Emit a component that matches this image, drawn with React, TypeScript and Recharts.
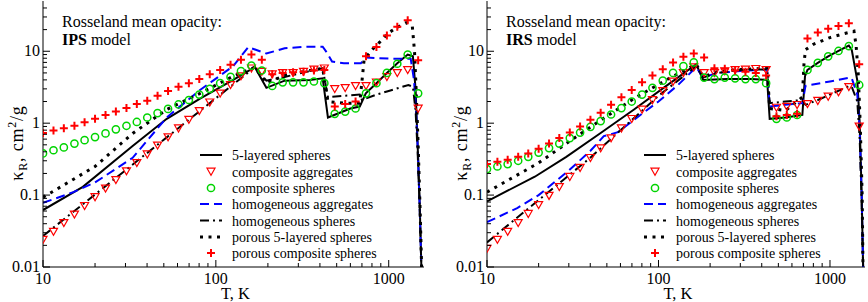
import { ComposedChart, Line, Scatter, XAxis, YAxis } from "recharts";

const FONT = '"Liberation Serif", "Times New Roman", serif';
const RED = "#ff0000";
const GREEN = "#00d400";
const BLUE = "#0000ff";

// temperature grid of the marker series (K)
const T_GRID = [
  10, 11.5, 13.2, 15.2, 17.4, 20.0, 23.0, 26.4, 30.4, 34.9, 40.1, 46.0, 52.9,
  60.8, 69.8, 80.2, 92.2, 105.9, 121.6, 139.7, 160.6, 184.5, 211.9, 243.5,
  279.7, 321.4, 369.3, 424.2, 487.4, 560, 643, 739, 849, 976, 1121, 1288, 1480,
];

// IPS model, marker series (cm^2/g)
const IPS_COMP_AGG = [
  0.024, 0.031, 0.041, 0.054, 0.071, 0.094, 0.124, 0.163, 0.215, 0.28, 0.37,
  0.49, 0.64, 0.85, 1.12, 1.48, 1.95, 2.6, 3.4, 4.5, 5.8, 5.2, 4.8, 5.0, 5.0,
  5.2, 5.6, 5.8, 3.0, 3.1, 3.3, 3.3, 3.7, 4.4, 5.0, 5.5, 1.6,
];
const IPS_COMP_SPH = [
  0.38, 0.42, 0.46, 0.52, 0.58, 0.64, 0.72, 0.82, 0.92, 1.04, 1.2, 1.38, 1.58,
  1.82, 2.1, 2.5, 3.0, 3.6, 4.4, 5.3, 6.3, 5.4, 3.3, 3.7, 3.7, 3.7, 3.8, 3.6,
  1.35, 1.45, 1.6, 2.6, 3.6, 5.0, 6.7, 9.0, 2.6,
];
const IPS_POR_COMP = [
  0.73, 0.79, 0.85, 0.92, 1.03, 1.15, 1.3, 1.45, 1.62, 1.85, 2.05, 2.4, 2.8,
  3.2, 3.6, 4.1, 4.8, 5.5, 6.5, 7.6, 9.0, 7.6, 4.8, 5.0, 5.1, 5.2, 5.4, 5.5,
  1.7, 1.85, 2.0, 8.5, 11.5, 16.5, 22, 27, 7.5,
];

// IRS model, marker series
const IRS_COMP_AGG = [
  0.018, 0.024, 0.031, 0.041, 0.055, 0.073, 0.098, 0.13, 0.18, 0.24, 0.33,
  0.45, 0.62, 0.85, 1.15, 1.55, 2.1, 2.8, 3.8, 5.0, 6.0, 5.0, 5.0, 5.3, 5.5,
  5.6, 5.7, 5.5, 1.65, 1.7, 1.8, 1.85, 2.05, 2.35, 2.7, 3.2, 0.9,
];
const IRS_COMP_SPH = [
  0.23, 0.25, 0.27, 0.3, 0.34, 0.39, 0.45, 0.52, 0.62, 0.74, 0.89, 1.07, 1.32,
  1.62, 2.0, 2.5, 3.1, 3.9, 5.0, 6.2, 7.0, 4.3, 4.1, 4.3, 4.2, 4.1, 4.1, 3.6,
  1.15, 1.2, 1.3, 5.5, 6.9, 8.5, 10.1, 11.8, 3.4,
];
const IRS_POR_COMP = [
  0.27, 0.29, 0.31, 0.34, 0.38, 0.44, 0.52, 0.62, 0.74, 0.9, 1.12, 1.4, 1.8,
  2.3, 2.9, 3.7, 4.6, 5.6, 7.0, 8.4, 9.3, 8.2, 5.8, 5.7, 5.4, 5.2, 5.0, 4.6,
  1.25, 1.3, 1.35, 15, 18.3, 20.5, 22.5, 24.5, 6.6,
];

// IPS model, line series
const IPS_LAYERED_T = [10, 17, 33, 52, 81, 126, 168, 196, 250, 350, 415, 445, 600, 680, 737, 849, 976, 1121, 1288, 1380, 1430, 1470, 1510, 1545, 1570];
const IPS_LAYERED_K = [0.062, 0.13, 0.48, 1.15, 2.2, 4.0, 6.0, 3.1, 3.9, 4.0, 4.2, 1.2, 1.6, 1.7, 2.6, 3.6, 5.0, 6.8, 9.0, 8.5, 3.0, 0.5, 0.08, 0.01, 0.001];
const IPS_HOMAGG_T = [10, 15, 20, 33, 52, 81, 126, 154, 196, 250, 330, 415, 440, 470, 550, 690, 740, 1000, 1340, 1400, 1440, 1475, 1510, 1545, 1570];
const IPS_HOMAGG_K = [0.078, 0.11, 0.15, 0.33, 1.2, 2.9, 6.2, 11.4, 9.3, 11.0, 11.6, 11.6, 9.5, 7.2, 6.8, 6.8, 8.2, 7.9, 7.9, 4.0, 1.5, 0.4, 0.07, 0.01, 0.001];
const IPS_HOMSPH_T = [10, 168, 196, 250, 350, 415, 445, 550, 680, 700, 850, 1000, 1300, 1380, 1430, 1470, 1510, 1545, 1570];
const IPS_HOMSPH_K = [0.027, 6.0, 3.9, 4.4, 5.3, 5.8, 2.3, 2.4, 2.5, 2.1, 2.5, 2.8, 3.4, 3.2, 1.5, 0.4, 0.07, 0.01, 0.001];
const IPS_POR5_T = [10, 20, 33, 52, 81, 126, 168, 196, 250, 350, 415, 445, 550, 680, 720, 800, 890, 990, 1100, 1260, 1370, 1410, 1440, 1480, 1520, 1550, 1570];
const IPS_POR5_K = [0.093, 0.25, 0.72, 1.55, 2.6, 4.5, 6.0, 3.6, 4.6, 5.4, 5.8, 2.0, 1.9, 1.9, 7.5, 10.5, 13.5, 17.8, 21, 25, 22, 10, 3, 0.5, 0.06, 0.01, 0.001];

// IRS model, line series
const IRS_LAYERED_T = [10, 19, 29, 46, 72, 111, 166, 182, 250, 350, 430, 445, 550, 690, 715, 739, 849, 976, 1121, 1288, 1340, 1443, 1490, 1530, 1560, 1575];
const IRS_LAYERED_K = [0.082, 0.18, 0.34, 0.73, 1.55, 3.3, 6.6, 4.0, 4.1, 4.1, 4.0, 1.15, 1.2, 1.3, 4.5, 5.5, 6.9, 8.5, 10.1, 12.0, 10.4, 3.9, 1.0, 0.1, 0.01, 0.001];
const IRS_HOMAGG_T = [10, 15, 20, 30, 40, 48, 58, 80, 100, 130, 166, 182, 220, 300, 430, 445, 550, 690, 720, 1000, 1300, 1340, 1443, 1490, 1530, 1560, 1575];
const IRS_HOMAGG_K = [0.042, 0.066, 0.1, 0.22, 0.41, 0.66, 0.75, 1.35, 2.0, 3.4, 6.0, 4.3, 5.0, 5.3, 5.6, 1.7, 1.8, 1.9, 3.3, 3.8, 4.3, 4.2, 2.5, 0.8, 0.1, 0.01, 0.001];
const IRS_HOMSPH_T = [10, 40, 100, 166, 182, 220, 300, 430, 445, 550, 690, 720, 850, 1000, 1300, 1340, 1443, 1490, 1530, 1560, 1575];
const IRS_HOMSPH_K = [0.022, 0.33, 2.4, 6.2, 4.3, 5.0, 5.5, 5.6, 1.9, 2.0, 2.1, 1.8, 2.1, 2.5, 3.3, 3.2, 2.0, 0.6, 0.08, 0.01, 0.001];
const IRS_POR5_T = [10, 20, 30, 46, 72, 111, 166, 182, 220, 300, 430, 445, 550, 690, 706, 720, 800, 1000, 1200, 1380, 1420, 1460, 1500, 1540, 1575];
const IRS_POR5_K = [0.11, 0.28, 0.55, 1.1, 2.2, 4.0, 6.6, 4.4, 5.2, 5.6, 5.8, 1.6, 1.5, 2.3, 7.0, 10.5, 12.5, 15.5, 17.5, 19, 12, 5, 1, 0.1, 0.001];

const X_TICKS = [10, 20, 30, 40, 50, 60, 70, 80, 90, 100, 200, 300, 400, 500, 600, 700, 800, 900, 1000];
const X_MAJOR = [10, 100, 1000];
const Y_TICKS = [
  0.01, 0.02, 0.03, 0.04, 0.05, 0.06, 0.07, 0.08, 0.09, 0.1, 0.2, 0.3, 0.4,
  0.5, 0.6, 0.7, 0.8, 0.9, 1, 2, 3, 4, 5, 6, 7, 8, 9, 10, 20, 30, 40,
];
const Y_MAJOR = [0.01, 0.1, 1, 10];

const LEGEND = [
  "5-layered spheres",
  "composite aggregates",
  "composite spheres",
  "homogeneous aggregates",
  "homogeneous spheres",
  "porous 5-layered spheres",
  "porous composite spheres",
];
const LEGEND_Y = [155, 171.5, 188, 204, 220.5, 237, 253];

const pairs = (t: number[], k: number[]) => t.map((T, i) => ({ T, K: k[i] }));

const LINE_STYLES = [
  { stroke: "#000", strokeWidth: 2 },
  { stroke: BLUE, strokeWidth: 2, strokeDasharray: "9 5" },
  { stroke: "#000", strokeWidth: 2, strokeDasharray: "9 4 2 4" },
  { stroke: "#000", strokeWidth: 3, strokeDasharray: "3 5.5" },
];

const Tri = ({ cx, cy }: { cx: number; cy: number }) => (
  <path
    d={`M${cx - 4},${cy - 3.3} L${cx + 4},${cy - 3.3} L${cx},${cy + 3.7} Z`}
    fill="none"
    stroke={RED}
    strokeWidth={1.2}
  />
);
const Ring = ({ cx, cy }: { cx: number; cy: number }) => (
  <circle cx={cx} cy={cy} r={3.6} fill="none" stroke={GREEN} strokeWidth={1.5} />
);
const Cross = ({ cx, cy }: { cx: number; cy: number }) => (
  <path
    d={`M${cx - 4},${cy} H${cx + 4} M${cx},${cy - 4} V${cy + 4}`}
    stroke={RED}
    strokeWidth={2}
  />
);

const XTick = (side: "bottom" | "top") => (props: any) => {
  const { x, y, payload } = props;
  const major = X_MAJOR.includes(payload.value);
  const len = major ? 7 : 4;
  const dir = side === "bottom" ? -1 : 1;
  return (
    <g>
      <line x1={x} y1={y} x2={x} y2={y + dir * len} stroke="#000" />
      {major && side === "bottom" && (
        <text x={x} y={y + 16.5} textAnchor="middle" fontSize={16} fontFamily={FONT} fill="#000">
          {payload.value}
        </text>
      )}
    </g>
  );
};

const YTick = (side: "left" | "right") => (props: any) => {
  const { x, y, payload } = props;
  const major = Y_MAJOR.includes(payload.value);
  const len = major ? 7 : 4;
  const dir = side === "left" ? 1 : -1;
  return (
    <g>
      <line x1={x} y1={y} x2={x + dir * len} y2={y} stroke="#000" />
      {major && side === "left" && (
        <text x={x - 3} y={y + 5} textAnchor="end" fontSize={16} fontFamily={FONT} fill="#000">
          {payload.value}
        </text>
      )}
    </g>
  );
};

interface PanelProps {
  model: string;
  yAxisWidth: number;
  rightMargin: number;
  lines: { t: number[]; k: number[] }[];
  compAgg: number[];
  compSph: number[];
  porComp: number[];
}

const Panel = ({ model, yAxisWidth, rightMargin, lines, compAgg, compSph, porComp }: PanelProps) => {
  const plotLeft = yAxisWidth;
  const plotRight = 434 - rightMargin;
  const sx = plotLeft + 157;
  const mx = sx + 11;
  const tx = sx + 32;
  return (
    <div style={{ position: "relative", width: 434, height: 302 }}>
      <ComposedChart width={434} height={302} margin={{ top: 1, right: rightMargin, bottom: 0, left: 0 }}>
        <XAxis
          xAxisId="b"
          dataKey="T"
          type="number"
          scale="log"
          domain={[10, 1600]}
          allowDataOverflow
          ticks={X_TICKS}
          interval={0}
          tickLine={false}
          tickSize={0}
          tickMargin={0}
          tick={XTick("bottom")}
          axisLine={{ stroke: "#000" }}
          height={35}
        />
        <XAxis
          xAxisId="t"
          orientation="top"
          dataKey="T"
          type="number"
          scale="log"
          domain={[10, 1600]}
          allowDataOverflow
          ticks={X_TICKS}
          interval={0}
          tickLine={false}
          tickSize={0}
          tickMargin={0}
          tick={XTick("top")}
          axisLine={{ stroke: "#000" }}
          height={0}
        />
        <YAxis
          yAxisId="l"
          dataKey="K"
          type="number"
          scale="log"
          domain={[0.01, 50]}
          allowDataOverflow
          ticks={Y_TICKS}
          interval={0}
          tickLine={false}
          tickSize={0}
          tickMargin={0}
          tick={YTick("left")}
          axisLine={{ stroke: "#000" }}
          width={yAxisWidth}
        />
        <YAxis
          yAxisId="r"
          orientation="right"
          dataKey="K"
          type="number"
          scale="log"
          domain={[0.01, 50]}
          allowDataOverflow
          ticks={Y_TICKS}
          interval={0}
          tickLine={false}
          tickSize={0}
          tickMargin={0}
          tick={YTick("right")}
          axisLine={{ stroke: "#000" }}
          width={0}
        />
        {lines.map((l, i) => (
          <Line
            key={i}
            xAxisId="b"
            yAxisId="l"
            data={pairs(l.t, l.k)}
            dataKey="K"
            type="linear"
            dot={false}
            isAnimationActive={false}
            {...LINE_STYLES[i]}
          />
        ))}
        <Scatter
          xAxisId="b"
          yAxisId="l"
          data={pairs(T_GRID, compAgg)}
          dataKey="K"
          isAnimationActive={false}
          shape={(p: any) => <Tri cx={p.cx} cy={p.cy} />}
        />
        <Scatter
          xAxisId="b"
          yAxisId="l"
          data={pairs(T_GRID, compSph)}
          dataKey="K"
          isAnimationActive={false}
          shape={(p: any) => <Ring cx={p.cx} cy={p.cy} />}
        />
        <Scatter
          xAxisId="b"
          yAxisId="l"
          data={pairs(T_GRID, porComp)}
          dataKey="K"
          isAnimationActive={false}
          shape={(p: any) => <Cross cx={p.cx} cy={p.cy} />}
        />
      </ComposedChart>
      <svg
        width={434}
        height={302}
        style={{ position: "absolute", left: 0, top: 0, pointerEvents: "none" }}
        fontFamily={FONT}
      >
        <text x={plotLeft + 19} y={27} fontSize={16}>
          Rosseland mean opacity:
        </text>
        <text x={plotLeft + 19} y={45} fontSize={16}>
          <tspan fontWeight="bold">{model}</tspan> model
        </text>
        <text
          transform={`translate(${plotLeft - 20},143) rotate(-90)`}
          textAnchor="middle"
          fontSize={18}
          letterSpacing={0.8}
        >
          κ<tspan fontSize={12} dy={4}>R</tspan>
          <tspan dy={-4}>, cm</tspan>
          <tspan fontSize={12} dy={-7}>2</tspan>
          <tspan dy={7}>/g</tspan>
        </text>
        <text x={(plotLeft + plotRight) / 2 + 2} y={299} textAnchor="middle" fontSize={16.5}>
          T, K
        </text>
        {LEGEND.map((name, i) => {
          const y = LEGEND_Y[i];
          return (
            <g key={name}>
              {i === 0 && <line x1={sx} x2={sx + 22} y1={y} y2={y} {...LINE_STYLES[0]} />}
              {i === 1 && <Tri cx={mx} cy={y} />}
              {i === 2 && <Ring cx={mx} cy={y} />}
              {i === 3 && <line x1={sx} x2={sx + 22} y1={y} y2={y} {...LINE_STYLES[1]} />}
              {i === 4 && <line x1={sx} x2={sx + 22} y1={y} y2={y} {...LINE_STYLES[2]} />}
              {i === 5 && <line x1={sx} x2={sx + 22} y1={y} y2={y} {...LINE_STYLES[3]} />}
              {i === 6 && <Cross cx={mx} cy={y} />}
              <text x={tx} y={y + 5} fontSize={14}>
                {name}
              </text>
            </g>
          );
        })}
      </svg>
    </div>
  );
};

export default function App() {
  return (
    <div
      style={{
        position: "absolute",
        left: 0,
        top: 0,
        width: 868,
        height: 302,
        background: "#fff",
        display: "flex",
        fontFamily: FONT,
      }}
    >
      <Panel
        model="IPS"
        yAxisWidth={43}
        rightMargin={10}
        lines={[
          { t: IPS_LAYERED_T, k: IPS_LAYERED_K },
          { t: IPS_HOMAGG_T, k: IPS_HOMAGG_K },
          { t: IPS_HOMSPH_T, k: IPS_HOMSPH_K },
          { t: IPS_POR5_T, k: IPS_POR5_K },
        ]}
        compAgg={IPS_COMP_AGG}
        compSph={IPS_COMP_SPH}
        porComp={IPS_POR_COMP}
      />
      <Panel
        model="IRS"
        yAxisWidth={53}
        rightMargin={3}
        lines={[
          { t: IRS_LAYERED_T, k: IRS_LAYERED_K },
          { t: IRS_HOMAGG_T, k: IRS_HOMAGG_K },
          { t: IRS_HOMSPH_T, k: IRS_HOMSPH_K },
          { t: IRS_POR5_T, k: IRS_POR5_K },
        ]}
        compAgg={IRS_COMP_AGG}
        compSph={IRS_COMP_SPH}
        porComp={IRS_POR_COMP}
      />
    </div>
  );
}
